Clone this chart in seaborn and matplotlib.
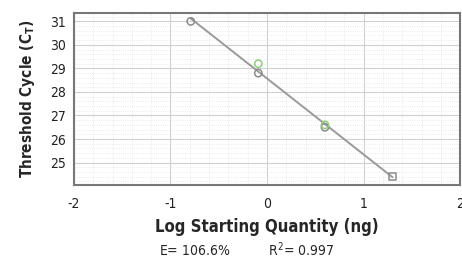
import numpy as np
import pandas as pd
import matplotlib
matplotlib.use("Agg")
import matplotlib.pyplot as plt
import seaborn as sns
from matplotlib.ticker import MultipleLocator

sns.set_theme(style="white")
plt.rcParams['font.family'] = ['DejaVu Sans']
plt.rcParams['font.stretch'] = 'condensed'
plt.rcParams['axes.unicode_minus'] = False

# Standard curve points
log_qty = [-0.79, -0.09, -0.09, 0.60, 0.60, 1.30]
ct = [31.0, 29.2, 28.8, 26.6, 26.5, 24.4]
replicate = ['gray', 'green', 'gray', 'green', 'gray', 'gray']
marker_shape = ['o', 'o', 'o', 'o', 'o', 's']

df = pd.DataFrame({'log_qty': log_qty, 'ct': ct, 'rep': replicate, 'shape': marker_shape})

edge_colors = {'gray': '#8c8c8c', 'green': '#8fcf7a'}

fig = plt.figure(figsize=(4.62, 2.68), dpi=100)
ax = fig.add_axes([0.160, 0.31, 0.836, 0.641])

# fitted standard curve
sns.regplot(data=df, x='log_qty', y='ct', scatter=False, ci=None, truncate=True,
            line_kws={'color': '#9a9a9a', 'lw': 1.4}, ax=ax)

for shp in ['o', 's']:
    for rep, col in edge_colors.items():
        sub = df[(df['shape'] == shp) & (df['rep'] == rep)]
        if len(sub):
            ax.scatter(sub['log_qty'], sub['ct'], marker=shp, s=28,
                       facecolors='none', edgecolors=col, linewidths=1.1, zorder=3)

ax.set_xlim(-2, 2)
ax.set_ylim(24.05, 31.35)
ax.set_xticks([-2, -1, 0, 1, 2])
ax.set_yticks([25, 26, 27, 28, 29, 30, 31])
ax.xaxis.set_minor_locator(MultipleLocator(0.2))
ax.yaxis.set_minor_locator(MultipleLocator(0.2))
ax.grid(True, which='major', color='#d0d0d0', lw=0.8)
ax.grid(True, which='minor', color='#e4e4e4', lw=0.6, ls=':')
for s in ax.spines.values():
    s.set_color('#777777')
    s.set_linewidth(1.5)
ax.tick_params(axis='both', which='major', length=3, width=1, color='#555555',
               labelsize=10, pad=3, direction='out', labelcolor='#222222')
ax.tick_params(axis='both', which='minor', length=2, width=0.8, color='#777777')
ax.tick_params(axis='x', pad=6)

ax.set_xlabel('Log Starting Quantity (ng)', fontsize=12, fontweight='bold', labelpad=5)
ax.set_ylabel('Threshold Cycle (C$_\\mathregular{T}$)', fontsize=11, fontweight='bold', labelpad=9)

fig.text(0.535, 0.067, 'E= 106.6%          R$^\\mathregular{2}$= 0.997', ha='center', va='center', fontsize=10)

fig.savefig('out.png', dpi=100)
